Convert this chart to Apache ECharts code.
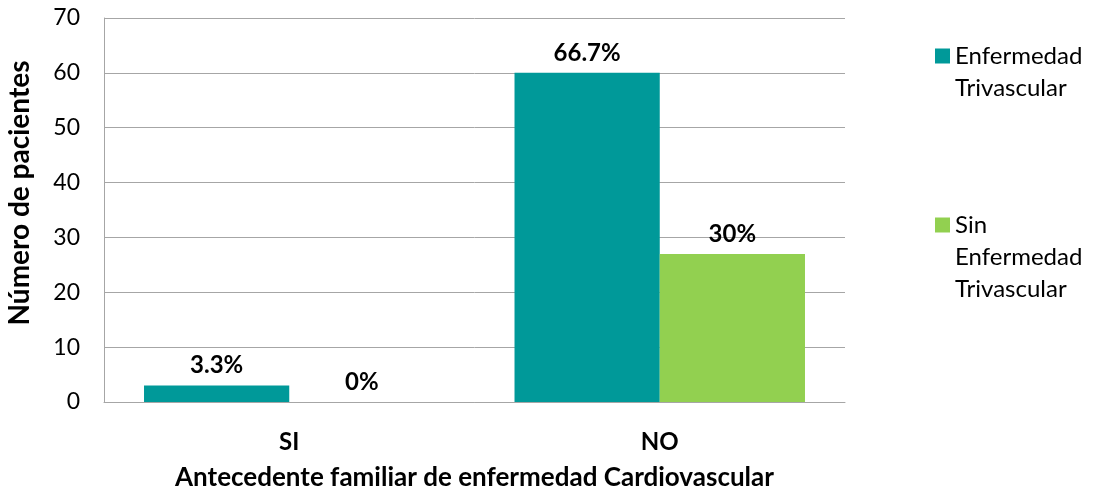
<!DOCTYPE html>
<html>
<head>
<meta charset="utf-8">
<script src="https://cdn.jsdelivr.net/npm/echarts@6/dist/echarts.min.js"></script>
<style>
  html, body { margin: 0; padding: 0; background: #fff; }
  #main { width: 1096px; height: 490px; }
</style>
</head>
<body>
<div id="main"></div>
<script>
// datos
var categorias = ['SI', 'NO'];
var conEnfermedad = [3, 60];
var sinEnfermedad = [0, 27];
var etiquetasCon = ['3.3%', '66.7%'];
var etiquetasSin = ['0%', '30%'];
var yTicks = [0, 10, 20, 30, 40, 50, 60, 70];

var fuente = 'Lato';
var gris = '#a6a6a6';

var myChart = echarts.init(document.getElementById('main'));

// lineas en blanco arriba para que el cuadrito quede junto a la primera linea
var option = {
  animation: false,
  textStyle: { fontFamily: fuente },
  grid: { left: 104, right: 251, top: 18, bottom: 88, containLabel: false, outerBoundsMode: 'none' },
  legend: [
    {
      data: ['Enfermedad Trivascular'],
      orient: 'vertical',
      left: 930,
      top: 3,
      itemWidth: 15,
      itemHeight: 15,
      icon: 'rect',
      formatter: function () { return '\nEnfermedad\nTrivascular'; },
      textStyle: { fontFamily: fuente, fontSize: 24, color: '#000', lineHeight: 32 }
    },
    {
      data: ['Sin Enfermedad Trivascular'],
      orient: 'vertical',
      left: 930,
      top: 140,
      itemWidth: 15,
      itemHeight: 15,
      icon: 'rect',
      formatter: function () { return '\n\nSin\nEnfermedad\nTrivascular'; },
      textStyle: { fontFamily: fuente, fontSize: 24, color: '#000', lineHeight: 32 }
    }
  ],
  xAxis: {
    type: 'category',
    data: categorias,
    name: 'Antecedente familiar de enfermedad Cardiovascular',
    nameLocation: 'middle',
    nameGap: 63,
    nameTextStyle: { fontFamily: fuente, fontSize: 26, fontWeight: 'bold', color: '#000' },
    axisLine: { lineStyle: { color: gris, width: 1 } },
    axisTick: { show: false },
    axisLabel: { fontFamily: fuente, fontSize: 24, fontWeight: 'bold', color: '#000', margin: 28 }
  },
  yAxis: {
    type: 'value',
    min: yTicks[0],
    max: yTicks[yTicks.length - 1],
    interval: 10,
    name: 'Número de pacientes',
    nameLocation: 'middle',
    nameGap: 70,
    nameRotate: 90,
    nameTextStyle: { fontFamily: fuente, fontSize: 28, fontWeight: 'bold', color: '#000', padding: [0, 0, 0, 34] },
    axisLine: { show: true, lineStyle: { color: gris, width: 1 } },
    axisTick: { show: false },
    splitLine: { lineStyle: { color: gris, width: 1 } },
    axisLabel: { fontFamily: fuente, fontSize: 23, color: '#000', margin: 24 }
  },
  series: [
    {
      name: 'Enfermedad Trivascular',
      type: 'bar',
      data: conEnfermedad,
      barGap: 0,
      barCategoryGap: '21.6%',
      itemStyle: { color: '#009999' },
      label: {
        show: true,
        position: 'top',
        distance: 8,
        fontFamily: fuente, fontSize: 24, fontWeight: 'bold', color: '#000',
        formatter: function (p) { return etiquetasCon[p.dataIndex]; }
      }
    },
    {
      name: 'Sin Enfermedad Trivascular',
      type: 'bar',
      data: sinEnfermedad,
      barGap: 0,
      barCategoryGap: '21.6%',
      itemStyle: { color: '#92d050' },
      label: {
        show: true,
        position: 'top',
        distance: 8,
        fontFamily: fuente, fontSize: 24, fontWeight: 'bold', color: '#000',
        formatter: function (p) { return etiquetasSin[p.dataIndex]; }
      }
    }
  ]
};

option && myChart.setOption(option);
</script>
</body>
</html>
